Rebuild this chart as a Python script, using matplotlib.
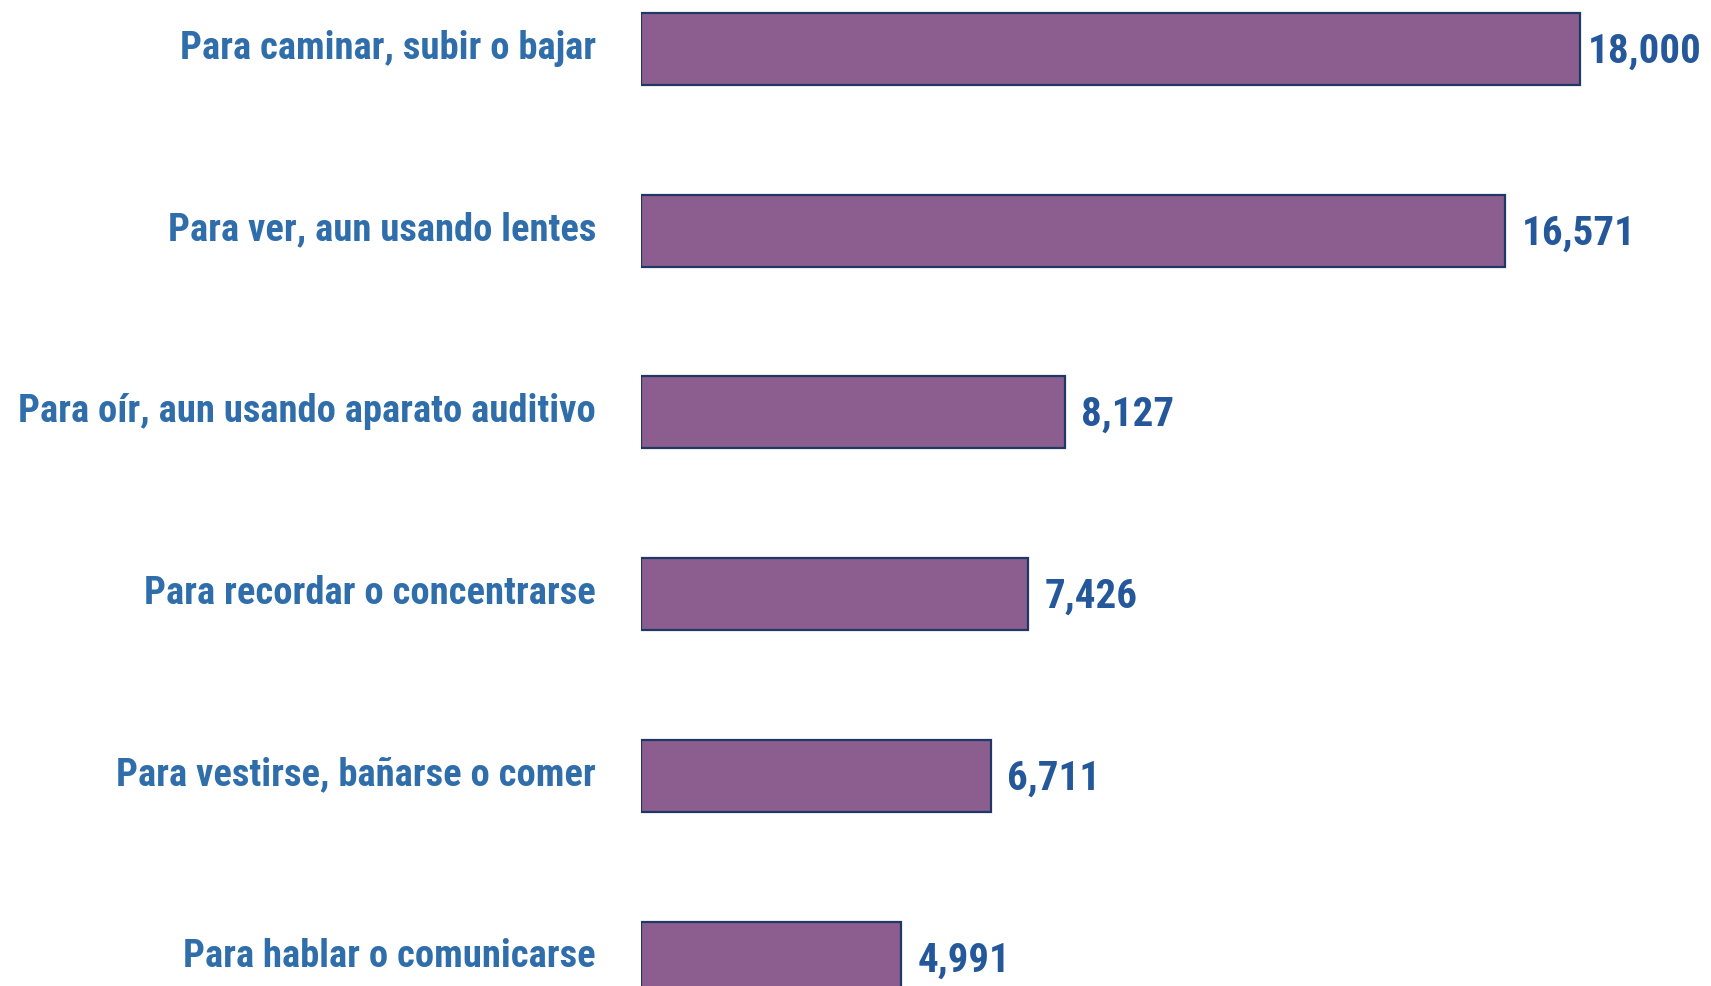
import matplotlib
matplotlib.use("Agg")
import matplotlib.pyplot as plt
from matplotlib import font_manager

categorias = [
    "Para caminar, subir o bajar",
    "Para ver, aun usando lentes",
    "Para oír, aun usando aparato auditivo",
    "Para recordar o concentrarse",
    "Para vestirse, bañarse o comer",
    "Para hablar o comunicarse",
]
valores = [18000, 16571, 8127, 7426, 6711, 4991]
etiquetas = ["18,000", "16,571", "8,127", "7,426", "6,711", "4,991"]

# fuente condensada si existe
nombres = {f.name for f in font_manager.fontManager.ttflist}
fuente = "DejaVu Sans"
for cand in ["Liberation Sans Narrow", "Roboto Condensed", "DejaVu Sans Condensed"]:
    if cand in nombres:
        fuente = cand
        break

W, H = 1711, 986
fig = plt.figure(figsize=(W / 100, H / 100), dpi=100)
x0 = 641
ax = fig.add_axes([x0 / W, 0, 1 - x0 / W, 1])

ppu = (1580 - x0) / 18000
ax.set_xlim(0, (W - x0) / ppu)
paso = 181.7
ax.set_ylim((H - 49) / paso, -49 / paso)

pos = list(range(len(categorias)))
ax.barh(pos, valores, height=72 / paso, color="#8B5E8F",
        edgecolor="#1F3864", linewidth=1.6)

for i, (v, t) in enumerate(zip(valores, etiquetas)):
    off = 8 if i == 0 else 16
    ax.annotate(t, (v, i), xytext=(off * 0.72, -2), textcoords="offset points",
                ha="left", va="center", fontsize=29.5, fontweight="bold",
                color="#25589A", family=fuente, annotation_clip=False)

for i, c in enumerate(categorias):
    ax.annotate(c, (0, i), xytext=(-45 * 0.72, 0.5), textcoords="offset points",
                ha="right", va="center", fontsize=27.8, fontweight="bold",
                color="#2F6EAA", family=fuente, annotation_clip=False)

ax.set_xticks([])
ax.set_yticks([])
for s in ax.spines.values():
    s.set_visible(False)

fig.savefig("out.png", dpi=100)
